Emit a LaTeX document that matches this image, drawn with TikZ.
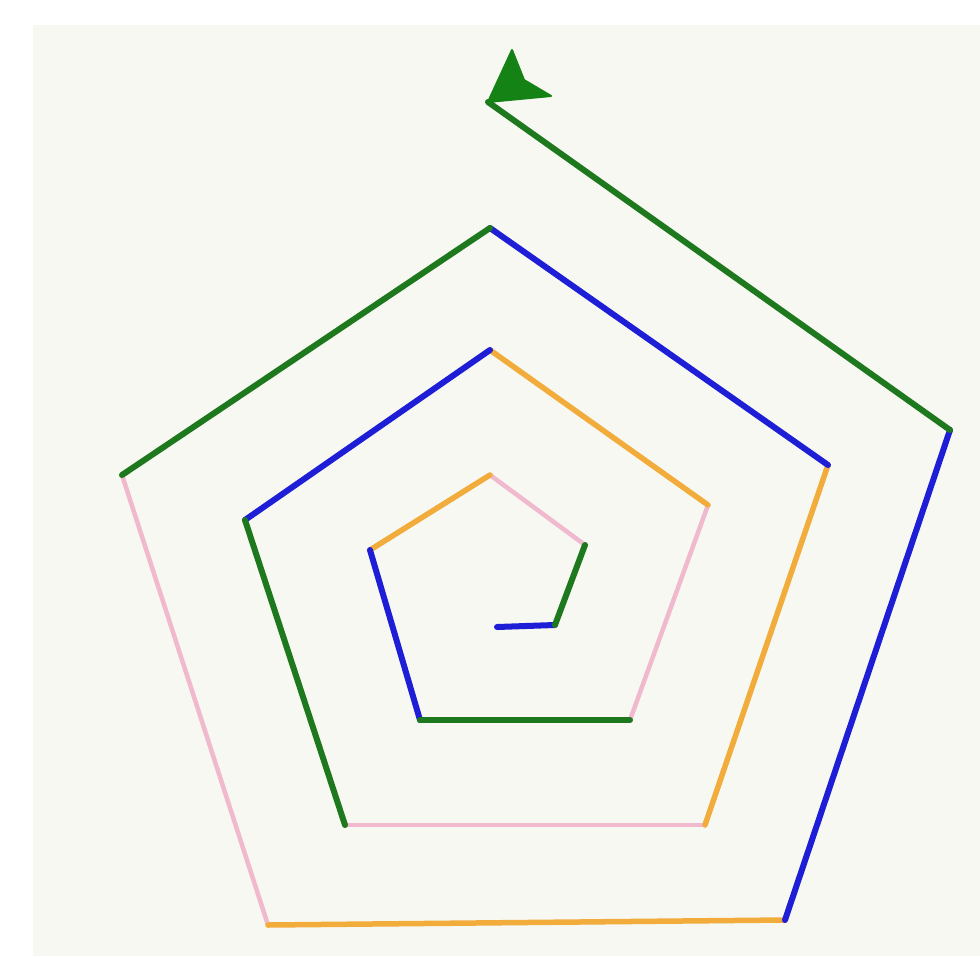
\documentclass[tikz,border=0pt]{standalone}
\definecolor{cblue}{RGB}{30,30,215}
\definecolor{cgreen}{RGB}{30,120,30}
\definecolor{cpink}{RGB}{240,185,205}
\definecolor{corange}{RGB}{242,172,60}
\definecolor{carrow}{RGB}{20,130,20}
\definecolor{cbg}{RGB}{248,248,243}
\begin{document}
\begin{tikzpicture}[x=1pt,y=-1pt,
  seg/.style={line width=6pt,line cap=round},
  sblue/.style={seg,draw=cblue},
  sgreen/.style={seg,draw=cgreen},
  spink/.style={seg,line width=4.5pt,draw=cpink},
  sorange/.style={seg,line width=5.5pt,draw=corange}]
\useasboundingbox (0,0) rectangle (980,956);
\fill[white] (0,0) rectangle (980,956);
\fill[cbg] (33,25) rectangle (980,956);
\coordinate (p0) at (497,627);
\coordinate (p1) at (555,625);
\coordinate (p2) at (585,545);
\coordinate (p3) at (490,475);
\coordinate (p4) at (370,550);
\coordinate (p5) at (420,720);
\coordinate (p6) at (630,720);
\coordinate (p7) at (708,505);
\coordinate (p8) at (490,350);
\coordinate (p9) at (245,520);
\coordinate (p10) at (345,825);
\coordinate (p11) at (705,825);
\coordinate (p12) at (828,465);
\coordinate (p13) at (490,228);
\coordinate (p14) at (122,475);
\coordinate (p15) at (268,925);
\coordinate (p16) at (785,920);
\coordinate (p17) at (950,430);
\coordinate (p18) at (488,102);
\draw[spink] (p2) -- (p3);
\draw[spink] (p6) -- (p7);
\draw[spink] (p10) -- (p11);
\draw[spink] (p14) -- (p15);
\draw[sorange] (p3) -- (p4);
\draw[sorange] (p7) -- (p8);
\draw[sorange] (p11) -- (p12);
\draw[sorange] (p15) -- (p16);
\draw[sblue] (p0) -- (p1);
\draw[sblue] (p4) -- (p5);
\draw[sblue] (p8) -- (p9);
\draw[sblue] (p12) -- (p13);
\draw[sblue] (p16) -- (p17);
\draw[sgreen] (p1) -- (p2);
\draw[sgreen] (p5) -- (p6);
\draw[sgreen] (p9) -- (p10);
\draw[sgreen] (p13) -- (p14);
\draw[sgreen] (p17) -- (p18);
\fill[carrow,line join=round,draw=carrow,line width=2pt] (p18) -- (512,50) -- (524,80) -- (551,96) -- cycle;
\end{tikzpicture}
\end{document}
